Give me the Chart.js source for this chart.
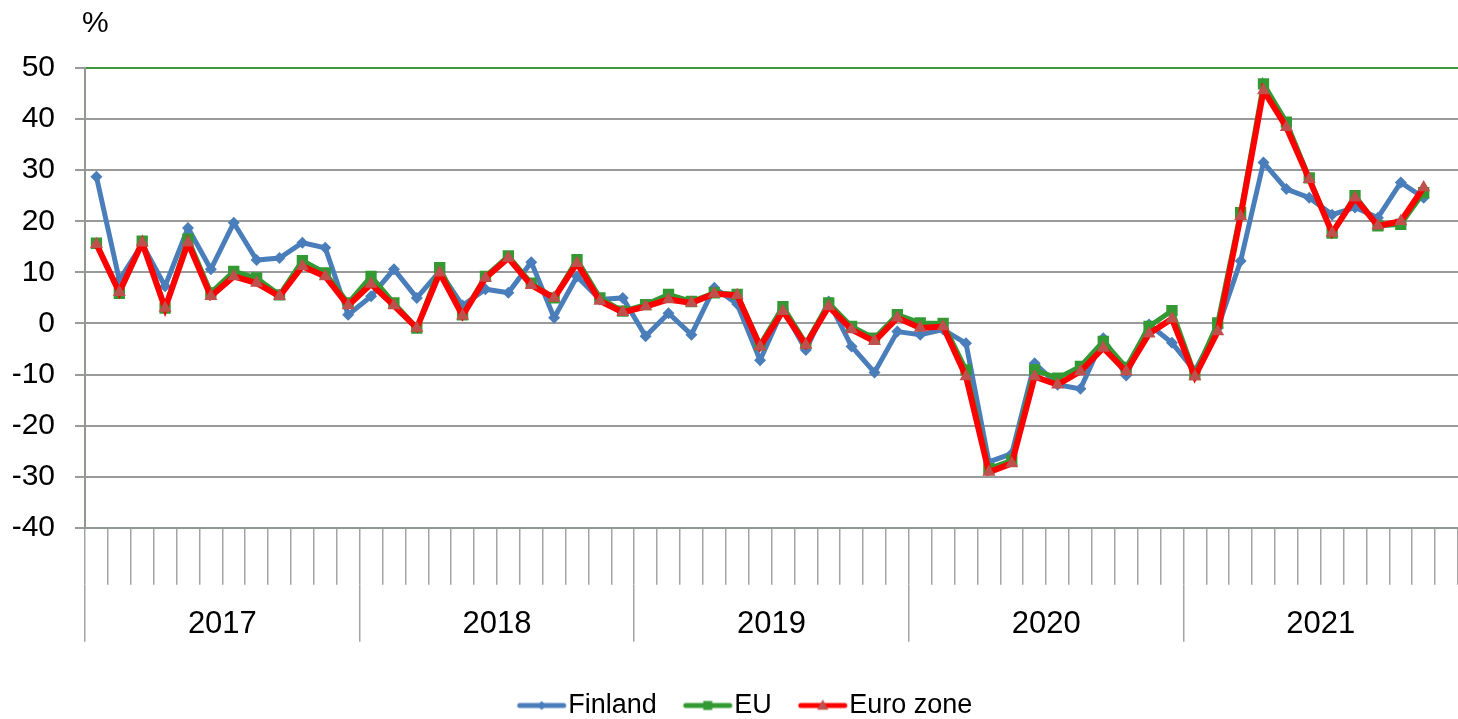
<!DOCTYPE html>
<html>
<head>
<meta charset="utf-8">
<script src="https://cdn.jsdelivr.net/npm/chart.js@4/dist/chart.umd.min.js"></script>
<style>
html, body { margin: 0; padding: 0; background: #fff; }
</style>
</head>
<body>
<canvas id="chart" width="1458" height="719"></canvas>
<script>
const years = ['2017', '2018', '2019', '2020', '2021'];
const months = ['01', '02', '03', '04', '05', '06', '07', '08', '09', '10', '11', '12'];

const finland = [
  28.7, 8.5, 15.5, 7.3, 18.7, 10.6, 19.7, 12.4, 12.8, 15.8, 14.8, 1.7,
  5.3, 10.6, 5.0, 10.2, 3.5, 6.7, 6.0, 12.0, 1.1, 9.2, 4.7, 5.0,
  -2.5, 2.0, -2.2, 7.0, 3.8, -7.2, 2.8, -5.2, 4.3, -4.5, -9.6, -1.6,
  -2.2, -1.2, -3.9, -27.1, -25.5, -7.8, -12.0, -12.8, -2.9, -10.2, -0.2, -3.8,
  -9.3, -0.9, 12.2, 31.5, 26.3, 24.6, 21.3, 22.7, 20.7, 27.6, 24.6
];
const eu = [
  15.7, 5.9, 16.1, 3.0, 16.5, 6.0, 10.2, 8.9, 5.6, 12.3, 9.9, 4.0,
  9.2, 4.0, -0.9, 10.9, 1.7, 9.2, 13.2, 7.9, 5.0, 12.5, 5.0, 2.4,
  3.7, 5.7, 4.3, 6.0, 5.7, -4.2, 3.3, -3.9, 4.0, -0.6, -2.9, 1.7,
  0.1, 0.0, -9.1, -28.4, -26.8, -9.1, -10.7, -8.4, -3.5, -8.6, -0.6, 2.5,
  -10.0, 0.1, 21.7, 46.9, 39.4, 28.5, 17.7, 25.0, 19.1, 19.4, 25.6
];
const euroZone = [
  15.5, 6.1, 15.8, 3.0, 15.8, 5.3, 9.2, 7.9, 5.3, 11.2, 9.2, 3.5,
  7.7, 3.5, -0.9, 9.9, 1.5, 8.9, 12.8, 7.5, 5.0, 11.8, 4.4, 2.2,
  3.3, 4.7, 4.0, 5.8, 5.5, -4.5, 2.4, -4.2, 3.3, -1.2, -3.5, 1.1,
  -0.9, -0.6, -10.4, -29.1, -27.4, -10.4, -12.0, -9.4, -4.8, -9.4, -2.0, 0.9,
  -10.4, -1.6, 21.0, 45.6, 38.4, 28.2, 17.7, 24.6, 19.1, 20.0, 26.6
];

const labels = [];
years.forEach(y => months.forEach(m => labels.push(y + '-' + m)));

const FONT = "'Liberation Sans', Arial, sans-serif";
const GRID = '#9a9a9a';
const BLUE = '#4a7ebb';
const GREEN = '#339933';
const RED = '#ff0000';
const RED_MARK = '#c0504d';

function marker(g, style, x, y, r) {
  g.beginPath();
  if (style === 'rectRot') {
    g.moveTo(x, y - r); g.lineTo(x + r, y); g.lineTo(x, y + r); g.lineTo(x - r, y);
  } else if (style === 'rect') {
    g.rect(x - r, y - r, 2 * r, 2 * r);
  } else {
    g.moveTo(x, y - r); g.lineTo(x + r * 0.95, y + r * 0.7); g.lineTo(x - r * 0.95, y + r * 0.7);
  }
  g.closePath();
  g.fill();
}

// line + marker sample for the legend, centred on the legend box
function legendIcon(lineColor, markColor, style, lw, r) {
  const c = document.createElement('canvas');
  c.width = 76; c.height = 16;
  const g = c.getContext('2d');
  g.strokeStyle = lineColor;
  g.lineWidth = lw;
  g.lineCap = 'round';
  g.beginPath(); g.moveTo(27, 8); g.lineTo(71, 8); g.stroke();
  g.fillStyle = markColor;
  marker(g, style, 49, 8, r);
  return c;
}

const percentLabel = {
  id: 'percentLabel',
  afterDraw(chart) {
    const ctx = chart.ctx;
    ctx.save();
    ctx.font = '30px ' + FONT;
    ctx.fillStyle = '#000';
    ctx.textAlign = 'left';
    ctx.textBaseline = 'alphabetic';
    ctx.fillText('%', chart.chartArea.left - 3, 32);
    ctx.restore();
  }
};

const icons = [
  legendIcon(BLUE, BLUE, 'rectRot', 5, 4.5),
  legendIcon(GREEN, GREEN, 'rect', 5, 4.5),
  legendIcon(RED, RED_MARK, 'triangle', 5, 6)
];

new Chart(document.getElementById('chart'), {
  type: 'line',
  data: {
    labels: labels,
    datasets: [
      {
        label: 'Finland', data: finland, order: 3,
        borderColor: BLUE, backgroundColor: BLUE, borderWidth: 5,
        pointStyle: 'rectRot', pointRadius: 6, pointBorderWidth: 0,
        pointBackgroundColor: BLUE, tension: 0
      },
      {
        label: 'EU', data: eu, order: 2,
        borderColor: GREEN, backgroundColor: GREEN, borderWidth: 5,
        pointStyle: 'rect', pointRadius: 8, pointBorderWidth: 0,
        pointBackgroundColor: GREEN, tension: 0
      },
      {
        label: 'Euro zone', data: euroZone, order: 1,
        borderColor: RED, backgroundColor: RED_MARK, borderWidth: 6,
        pointStyle: 'triangle', pointRadius: 7.5, pointBorderWidth: 0,
        pointBackgroundColor: RED_MARK, tension: 0
      }
    ]
  },
  options: {
    responsive: false,
    animation: false,
    layout: { autoPadding: false, padding: { left: 13, right: -8, top: 68, bottom: -10 } },
    plugins: {
      tooltip: { enabled: false },
      legend: {
        position: 'bottom',
        labels: {
          color: '#000',
          font: { family: FONT, size: 27 },
          padding: 16,
          usePointStyle: true,
          pointStyleWidth: 48,
          generateLabels: (chart) => chart.data.datasets.map((ds, i) => ({
            text: ds.label,
            pointStyle: icons[i],
            fillStyle: ds.borderColor,
            strokeStyle: ds.borderColor,
            lineWidth: 0,
            datasetIndex: i,
            hidden: false
          }))
        }
      }
    },
    scales: {
      x: {
        position: 'bottom',
        weight: 0,
        offset: true,
        grid: {
          offset: true,
          drawOnChartArea: false,
          tickLength: 57,
          color: '#a4a4a4',
          lineWidth: 1.5
        },
        border: { display: true, color: '#8f998f', width: 2 },
        ticks: { display: false }
      },
      x2: {
        type: 'category',
        labels: labels,
        position: 'bottom',
        weight: 1,
        offset: true,
        grid: {
          offset: true,
          drawOnChartArea: false,
          tickLength: 57,
          lineWidth: 1.5,
          color: (ctx) => (ctx.index % 12 === 0 ? '#a4a4a4' : 'rgba(0,0,0,0)'),
          tickColor: (ctx) => (ctx.index % 12 === 0 ? '#a4a4a4' : 'rgba(0,0,0,0)')
        },
        border: { display: false },
        // empty title only reserves room between the year labels and the legend
        title: { display: true, text: '', font: { size: 1, lineHeight: 1 }, padding: { top: 68, bottom: 0 } },
        ticks: {
          autoSkip: false,
          maxRotation: 0,
          minRotation: 0,
          padding: -36,
          labelOffset: 11.5,
          color: '#000',
          font: { family: FONT, size: 31 },
          callback: (val, idx) => (idx % 12 === 5 ? labels[idx].slice(0, 4) : '')
        }
      },
      y: {
        min: -40,
        max: 50,
        afterFit: (scale) => { scale.width = 72; },
        ticks: {
          stepSize: 10,
          padding: 20,
          color: '#000',
          font: { family: FONT, size: 30 }
        },
        grid: {
          tickLength: 10,
          lineWidth: 2,
          color: (ctx) => (ctx.tick && ctx.tick.value === 50 ? '#3f9a3f' : GRID),
          tickColor: GRID
        },
        border: { display: true, color: '#8f998f', width: 2 }
      }
    }
  },
  plugins: [percentLabel]
});
</script>
</body>
</html>
